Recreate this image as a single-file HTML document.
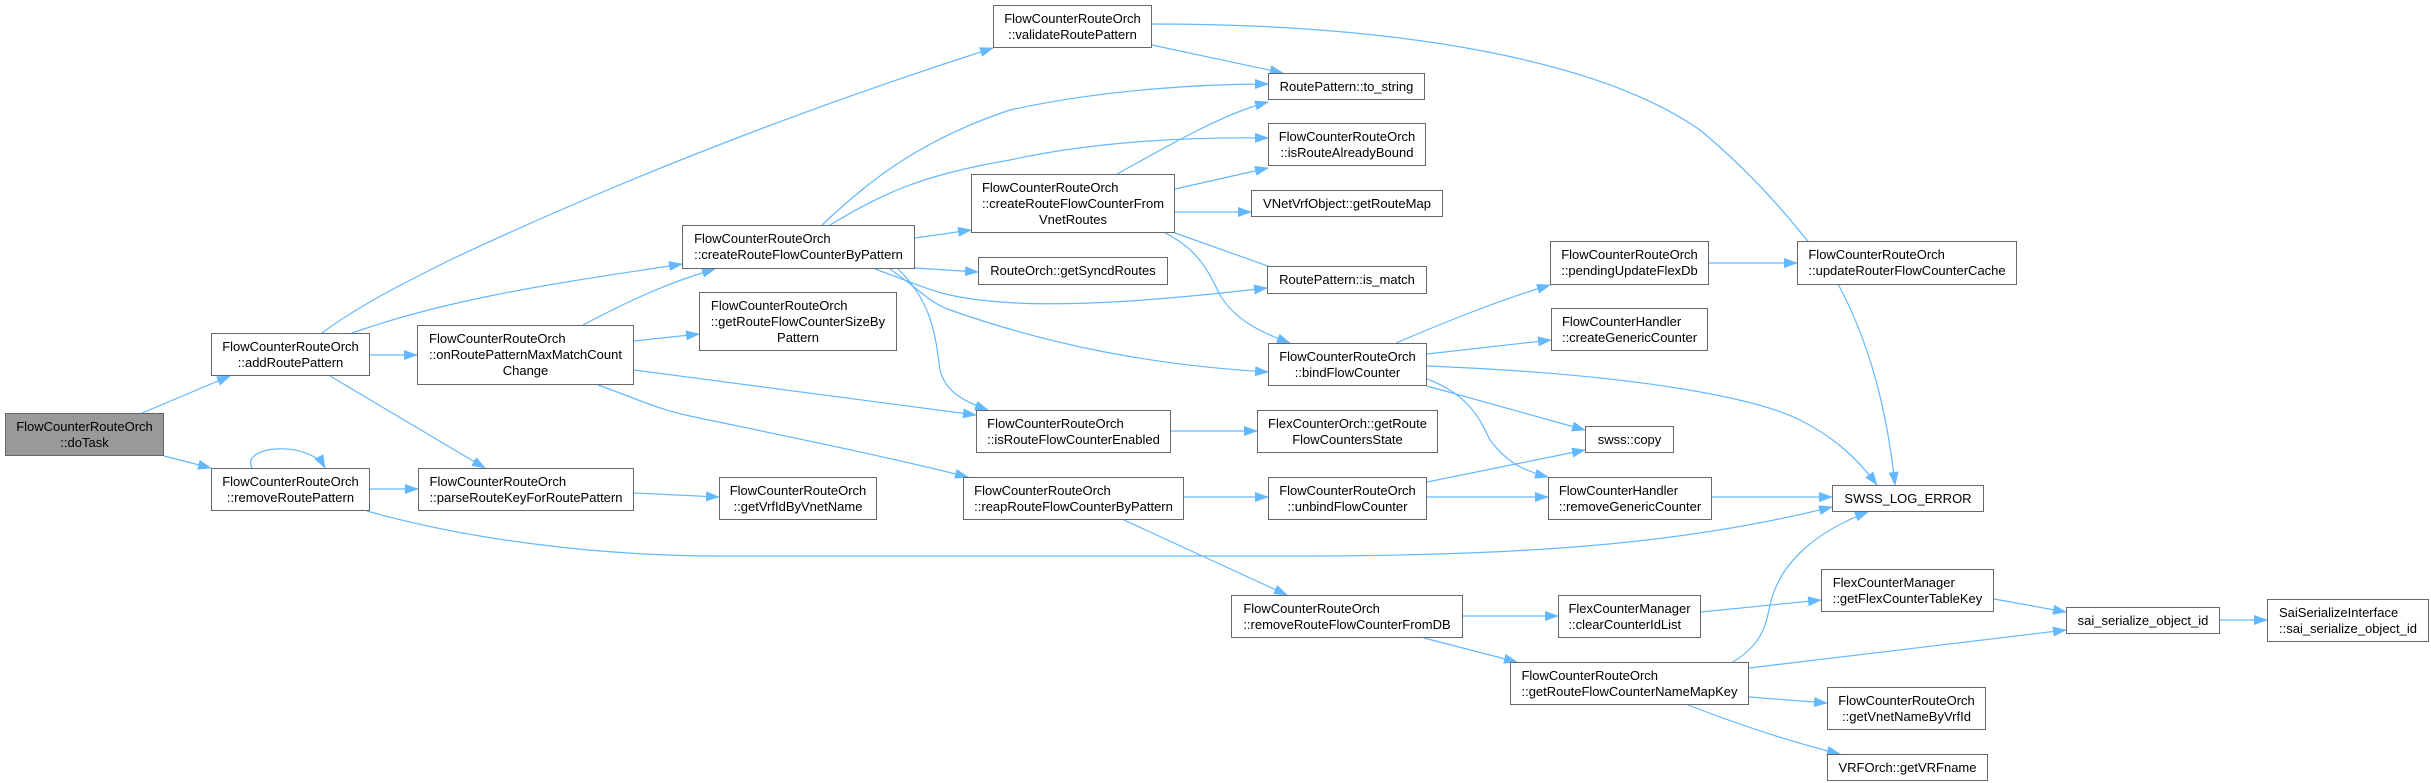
<!DOCTYPE html>
<html><head><meta charset="utf-8"><style>
html,body{margin:0;padding:0;background:#fff}
#c{position:relative;width:2431px;height:783px;overflow:hidden;font-family:"Liberation Sans",Arial,sans-serif;font-size:13px;color:#000}
.n{position:absolute;box-sizing:border-box;border:1px solid #666;background:#fff;display:flex;align-items:center;justify-content:center;line-height:16px;white-space:nowrap}
.n>div{display:inline-block;text-align:left}
.n .ct{text-align:center}
.g{background:#999}
svg{position:absolute;left:0;top:0}
</style></head><body><div id="c">
<svg width="2431" height="783" viewBox="0 0 2431 783">
<defs><marker id="a" markerWidth="14" markerHeight="10" refX="13" refY="5" orient="auto" markerUnits="userSpaceOnUse"><path d="M0,0 L14,5 L0,10 z" fill="#63b8ff"/></marker></defs>
<g fill="none" stroke="#63b8ff" stroke-width="1.2" marker-end="url(#a)">
<path d="M142,413 L230,376"/>
<path d="M164,456 L211,468"/>
<path d="M252,468 C240,445 310,440 325,468"/>
<path d="M322,333 C360,305 400,285 450,260 C620,180 800,110 993,48"/>
<path d="M352,333 C460,295 580,280 682,264"/>
<path d="M370,355 L417,355"/>
<path d="M330,376 L485,468"/>
<path d="M370,489 L418,489"/>
<path d="M367,511 C470,540 600,556 720,556 L1300,556 C1550,556 1700,540 1832,507"/>
<path d="M583,325 C630,300 670,282 715,269"/>
<path d="M634,341 L699,334"/>
<path d="M634,370 L976,415"/>
<path d="M598,385 C640,400 660,410 690,416 C780,435 880,455 968,477"/>
<path d="M634,493 L719,497"/>
<path d="M822,225 C870,180 920,140 1010,110 C1100,90 1200,84 1268,84"/>
<path d="M830,225 C880,195 920,175 1010,160 C1100,140 1200,137 1268,138"/>
<path d="M915,238 L971,230"/>
<path d="M915,268 L978,272"/>
<path d="M875,269 C920,285 935,295 980,300 C1060,310 1180,298 1267,288"/>
<path d="M890,269 C920,290 930,303 950,310 C1050,345 1150,365 1268,372"/>
<path d="M898,269 C930,300 935,330 940,370 C945,390 960,400 988,410"/>
<path d="M1117,174 C1170,145 1220,115 1268,102"/>
<path d="M1175,189 L1268,168"/>
<path d="M1175,212 L1251,212"/>
<path d="M1175,233 L1296,276"/>
<path d="M1165,233 C1200,250 1210,275 1220,295 C1235,320 1260,332 1290,343"/>
<path d="M1152,45 L1283,73"/>
<path d="M1152,24 C1400,24 1600,60 1700,130 C1760,180 1800,230 1830,270 C1860,320 1885,390 1895,485"/>
<path d="M1396,343 C1450,320 1500,300 1550,285"/>
<path d="M1427,354 L1551,340"/>
<path d="M1427,366 C1650,375 1760,400 1800,420 C1830,435 1855,455 1877,485"/>
<path d="M1427,386 L1585,430"/>
<path d="M1427,379 C1470,395 1480,420 1490,440 C1505,460 1520,470 1548,477"/>
<path d="M1171,431 L1257,431"/>
<path d="M1184,497 L1268,497"/>
<path d="M1124,520 L1287,595"/>
<path d="M1427,482 L1585,450"/>
<path d="M1427,497 L1548,497"/>
<path d="M1712,497 L1832,497"/>
<path d="M1709,263 L1797,263"/>
<path d="M1463,616 L1558,616"/>
<path d="M1424,638 L1517,662"/>
<path d="M1701,612 L1821,600"/>
<path d="M1994,599 L2066,612"/>
<path d="M1733,662 C1760,645 1765,630 1770,605 C1780,560 1820,530 1868,512"/>
<path d="M1749,668 L2066,630"/>
<path d="M1749,697 L1827,703"/>
<path d="M1688,705 C1740,725 1790,742 1840,754"/>
<path d="M2220,620 L2267,620"/>
</g></svg>
<div class="n g" style="left:5px;top:413px;width:159px;height:43px"><div class="ct">FlowCounterRouteOrch<br>::doTask</div></div>
<div class="n" style="left:211px;top:333px;width:159px;height:43px"><div class="ct">FlowCounterRouteOrch<br>::addRoutePattern</div></div>
<div class="n" style="left:211px;top:468px;width:159px;height:43px"><div class="ct">FlowCounterRouteOrch<br>::removeRoutePattern</div></div>
<div class="n" style="left:417px;top:325px;width:217px;height:60px"><div>FlowCounterRouteOrch<br>::onRoutePatternMaxMatchCount<div class="ct">Change</div></div></div>
<div class="n" style="left:418px;top:468px;width:216px;height:43px"><div>FlowCounterRouteOrch<br>::parseRouteKeyForRoutePattern</div></div>
<div class="n" style="left:682px;top:225px;width:233px;height:44px"><div>FlowCounterRouteOrch<br>::createRouteFlowCounterByPattern</div></div>
<div class="n" style="left:699px;top:292px;width:198px;height:59px"><div>FlowCounterRouteOrch<br>::getRouteFlowCounterSizeBy<div class="ct">Pattern</div></div></div>
<div class="n" style="left:719px;top:477px;width:158px;height:43px"><div class="ct">FlowCounterRouteOrch<br>::getVrfIdByVnetName</div></div>
<div class="n" style="left:993px;top:5px;width:159px;height:43px"><div class="ct">FlowCounterRouteOrch<br>::validateRoutePattern</div></div>
<div class="n" style="left:1268px;top:73px;width:157px;height:27px"><div>RoutePattern::to_string</div></div>
<div class="n" style="left:1268px;top:123px;width:158px;height:43px"><div class="ct">FlowCounterRouteOrch<br>::isRouteAlreadyBound</div></div>
<div class="n" style="left:971px;top:174px;width:204px;height:59px"><div>FlowCounterRouteOrch<br>::createRouteFlowCounterFrom<div class="ct">VnetRoutes</div></div></div>
<div class="n" style="left:1251px;top:190px;width:192px;height:27px"><div>VNetVrfObject::getRouteMap</div></div>
<div class="n" style="left:978px;top:257px;width:190px;height:28px"><div>RouteOrch::getSyncdRoutes</div></div>
<div class="n" style="left:1267px;top:266px;width:160px;height:28px"><div>RoutePattern::is_match</div></div>
<div class="n" style="left:1268px;top:343px;width:159px;height:43px"><div class="ct">FlowCounterRouteOrch<br>::bindFlowCounter</div></div>
<div class="n" style="left:976px;top:410px;width:195px;height:43px"><div>FlowCounterRouteOrch<br>::isRouteFlowCounterEnabled</div></div>
<div class="n" style="left:1257px;top:410px;width:181px;height:43px"><div class="ct">FlexCounterOrch::getRoute<br>FlowCountersState</div></div>
<div class="n" style="left:963px;top:477px;width:221px;height:43px"><div>FlowCounterRouteOrch<br>::reapRouteFlowCounterByPattern</div></div>
<div class="n" style="left:1268px;top:477px;width:159px;height:43px"><div class="ct">FlowCounterRouteOrch<br>::unbindFlowCounter</div></div>
<div class="n" style="left:1231px;top:595px;width:232px;height:43px"><div>FlowCounterRouteOrch<br>::removeRouteFlowCounterFromDB</div></div>
<div class="n" style="left:1550px;top:241px;width:159px;height:44px"><div class="ct">FlowCounterRouteOrch<br>::pendingUpdateFlexDb</div></div>
<div class="n" style="left:1551px;top:308px;width:157px;height:43px"><div>FlowCounterHandler<br>::createGenericCounter</div></div>
<div class="n" style="left:1585px;top:426px;width:89px;height:27px"><div>swss::copy</div></div>
<div class="n" style="left:1548px;top:477px;width:164px;height:43px"><div>FlowCounterHandler<br>::removeGenericCounter</div></div>
<div class="n" style="left:1558px;top:595px;width:143px;height:43px"><div>FlexCounterManager<br>::clearCounterIdList</div></div>
<div class="n" style="left:1510px;top:662px;width:239px;height:43px"><div>FlowCounterRouteOrch<br>::getRouteFlowCounterNameMapKey</div></div>
<div class="n" style="left:1797px;top:241px;width:220px;height:44px"><div>FlowCounterRouteOrch<br>::updateRouterFlowCounterCache</div></div>
<div class="n" style="left:1832px;top:485px;width:152px;height:27px"><div>SWSS_LOG_ERROR</div></div>
<div class="n" style="left:1821px;top:569px;width:173px;height:43px"><div>FlexCounterManager<br>::getFlexCounterTableKey</div></div>
<div class="n" style="left:2066px;top:607px;width:154px;height:27px"><div>sai_serialize_object_id</div></div>
<div class="n" style="left:2267px;top:599px;width:162px;height:43px"><div>SaiSerializeInterface<br>::sai_serialize_object_id</div></div>
<div class="n" style="left:1827px;top:687px;width:159px;height:43px"><div class="ct">FlowCounterRouteOrch<br>::getVnetNameByVrfId</div></div>
<div class="n" style="left:1827px;top:754px;width:161px;height:27px"><div>VRFOrch::getVRFname</div></div>
</div></body></html>
